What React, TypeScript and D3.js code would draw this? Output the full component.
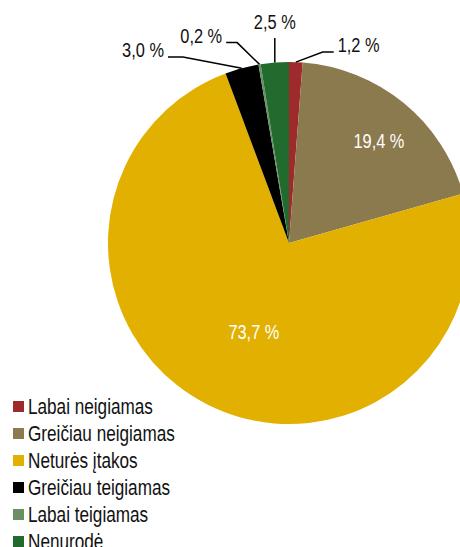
import React from "react";
import * as d3 from "d3";

const categories = [
  "Labai neigiamas",
  "Greičiau neigiamas",
  "Neturės įtakos",
  "Greičiau teigiamas",
  "Labai teigiamas",
  "Nenurodė",
];
const values = [1.2, 19.4, 73.7, 3.0, 0.2, 2.5];
const valueLabels = ["1,2 %", "19,4 %", "73,7 %", "3,0 %", "0,2 %", "2,5 %"];
const colors = ["#9E2A2B", "#8B7A4E", "#E2B000", "#000000", "#6A8F64", "#206B2D"];

// layout for labels (not data)
const labelLayout: any[] = [
  { type: "out", elbowDeg: 10, elbowR: 194, hx: 11 },
  { type: "in", r: 136, deg: 41.4 },
  { type: "in", r: 95, deg: 201.7 },
  { type: "out", elbowDeg: -29.7, elbowR: 214, hx: -15 },
  { type: "out", elbowDeg: -14.5, elbowR: 207, hx: -11 },
  { type: "vert", elbowR: 205 },
];

const FONT = "'Liberation Sans', Arial, sans-serif";
const SX = 0.78;

function NText(props: { x: number; y: number; size: number; fill: string; anchor?: string; children: any }) {
  const { x, y, size, fill, anchor = "start", children } = props;
  return (
    <text
      transform={`translate(${x},${y}) scale(${SX},1)`}
      fontFamily={FONT}
      fontSize={size}
      fill={fill}
      textAnchor={anchor}
      dominantBaseline="central"
    >
      {children}
    </text>
  );
}

export default function App() {
  const W = 460;
  const H = 547;
  const cx = 289;
  const cy = 243;
  const R = 181;
  const pie = d3.pie<number>().sort(null).value((d) => d)(values);
  const arc = d3.arc<d3.PieArcDatum<number>>().innerRadius(0).outerRadius(R);
  const pol = (deg: number, r: number) => {
    const a = (deg * Math.PI) / 180;
    return [cx + r * Math.sin(a), cy - r * Math.cos(a)];
  };
  const legendY = d3.scaleBand<string>().domain(categories).range([393, 555]).paddingInner(0);

  return (
    <svg width={W} height={H} style={{ position: "absolute", left: 0, top: 0 }}>
      <rect width={W} height={H} fill="#fff" />
      <g transform={`translate(${cx},${cy})`}>
        {pie.map((p, i) => (
          <path key={i} d={arc(p) || ""} fill={colors[i]} />
        ))}
      </g>
      {pie.map((p, i) => {
        const L = labelLayout[i];
        const midDeg = (((p.startAngle + p.endAngle) / 2) * 180) / Math.PI;
        if (L.type === "in") {
          const [x, y] = pol(L.deg, L.r);
          return (
            <NText key={i} x={x} y={y} size={21} fill="#fff" anchor="middle">
              {valueLabels[i]}
            </NText>
          );
        }
        const [sx, sy] = pol(midDeg, R);
        if (L.type === "vert") {
          const ey = cy - L.elbowR;
          return (
            <g key={i}>
              <line x1={sx} y1={sy} x2={sx} y2={ey} stroke="#000" strokeWidth={1.5} />
              <NText x={sx} y={ey - 16} size={21} fill="#111" anchor="middle">
                {valueLabels[i]}
              </NText>
            </g>
          );
        }
        const [ex, ey] = pol(L.elbowDeg, L.elbowR);
        const hx = ex + L.hx;
        const right = L.hx > 0;
        return (
          <g key={i}>
            <polyline points={`${sx},${sy} ${ex},${ey} ${hx},${ey}`} fill="none" stroke="#000" strokeWidth={1.5} />
            <NText x={right ? hx + 4 : hx - 4} y={ey - 7} size={21} fill="#111" anchor={right ? "start" : "end"}>
              {valueLabels[i]}
            </NText>
          </g>
        );
      })}
      {categories.map((c, i) => {
        const y = (legendY(c) || 0) + legendY.bandwidth() / 2;
        return (
          <g key={c}>
            <rect x={13} y={y - 5.5} width={11} height={11} fill={colors[i]} />
            <NText x={28} y={y} size={22} fill="#111">
              {c}
            </NText>
          </g>
        );
      })}
    </svg>
  );
}
